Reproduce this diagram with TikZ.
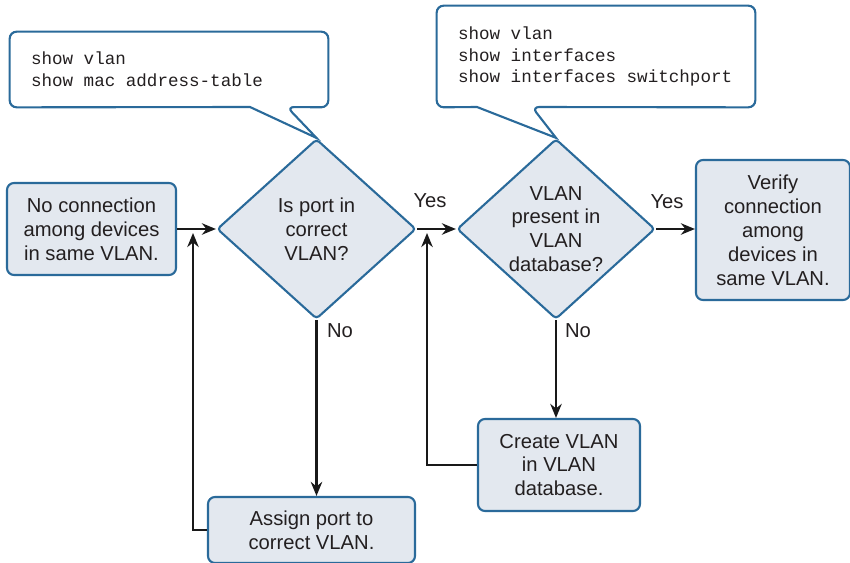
\documentclass[tikz,border=0pt]{standalone}
\usepackage{fontspec}
\setmainfont{Liberation Sans}
\setmonofont{Liberation Mono}
\usetikzlibrary{arrows.meta, shapes.geometric}
\definecolor{flowblue}{HTML}{2A6A9A}
\definecolor{flowfill}{HTML}{E3E8EF}
\definecolor{inktext}{HTML}{231F20}
\newcommand{\cmdfont}{\ttfamily\fontsize{10}{12.3}\selectfont}
% full-width gap between command words
\newcommand{\cmdgap}{\hspace*{6pt}}

\begin{document}
\begin{tikzpicture}[
  font=\fontsize{11.5}{13.6}\selectfont, text=inktext,
  stepbox/.style={draw=flowblue, fill=flowfill, line width=1.2pt, rounded corners=4pt, align=center, inner sep=0pt},
  decision/.style={diamond, draw=flowblue, fill=flowfill, line width=1.2pt, rounded corners=2pt, align=center, inner sep=0pt},
  cmdbox/.style={inner xsep=0.42cm, inner ysep=0pt, align=left, font=\cmdfont},
  callout/.style={draw=flowblue, line width=1.2pt, rounded corners=4pt},
  flow/.style={-{Stealth[length=8pt, width=6.5pt]}, line width=1.3pt, draw=black!90},
]
  \useasboundingbox (0,0) rectangle (17,-11.26);

  % Main row: start, two checks, result
  \node[stepbox, minimum width=3.38cm, minimum height=1.84cm] (start) at (1.83,-4.58) {No connection\\among devices\\in same VLAN.};
  \node[decision, minimum width=3.98cm, minimum height=3.6cm] (port) at (6.33,-4.58) {Is port in\\correct\\VLAN?};
  \node[decision, minimum width=3.96cm, minimum height=3.58cm] (vlan) at (11.12,-4.58) {VLAN\\present in\\VLAN\\database?};
  \node[stepbox, minimum width=3.08cm, minimum height=2.8cm] (verify) at (15.46,-4.6) {Verify\\connection\\among\\devices in\\same VLAN.};

  % Fix-up steps below
  \node[stepbox, minimum width=4.14cm, minimum height=1.32cm] (assign) at (6.23,-10.6) {Assign port to\\correct VLAN.};
  \node[stepbox, minimum width=3.24cm, minimum height=1.84cm] (create) at (11.18,-9.3) {Create VLAN\\in VLAN\\database.};

  % Command callouts
  \node[cmdbox, text width=5.52cm, minimum height=1.5cm] (cmdA) at (3.38,-1.39) {show\cmdgap vlan\\show\cmdgap mac\cmdgap address-table};
  \coordinate (cmdA-a) at (5.0,-2.14);
  \coordinate (cmdA-b) at (5.74,-2.14);
  \draw[callout] (cmdA.south west) -- (cmdA.north west) -- (cmdA.north east) -- (cmdA.south east)
    -- (cmdA-b) [sharp corners] -- (port.north) -- (cmdA-a) [rounded corners=4pt] -- cycle;

  \node[cmdbox, text width=5.52cm, minimum height=2.02cm] (cmdB) at (11.92,-1.13) {show\cmdgap vlan\\show\cmdgap interfaces\\show\cmdgap interfaces\cmdgap switchport};
  \coordinate (cmdB-a) at (9.54,-2.14);
  \coordinate (cmdB-b) at (10.64,-2.14);
  \draw[callout] (cmdB.south west) -- (cmdB.north west) -- (cmdB.north east) -- (cmdB.south east)
    -- (cmdB-b) [sharp corners] -- (vlan.north) -- (cmdB-a) [rounded corners=4pt] -- cycle;

  % Arrows
  \draw[flow] (start.east) -- (port.west);
  \draw[flow] (port.east) -- (vlan.west);
  \draw[flow] (vlan.east) -- (verify.west |- vlan.east);
  \draw[flow] (port.south) -- (port.south |- assign.north);
  \draw[flow] (vlan.south) -- (vlan.south |- create.north);

  % Loops back into the main row
  \coordinate (backA) at (3.86,-4.66);
  \coordinate (backB) at (8.54,-4.66);
  \draw[flow] (assign.west) -| (backA);
  \draw[flow] (create.west) -| (backB);

  % Branch labels
  \node (yesA) at (8.6,-4.02) {Yes};
  \node (yesB) at (13.34,-4.04) {Yes};
  \node (noA) at (6.8,-6.62) {No};
  \node (noB) at (11.56,-6.62) {No};
\end{tikzpicture}
\end{document}
